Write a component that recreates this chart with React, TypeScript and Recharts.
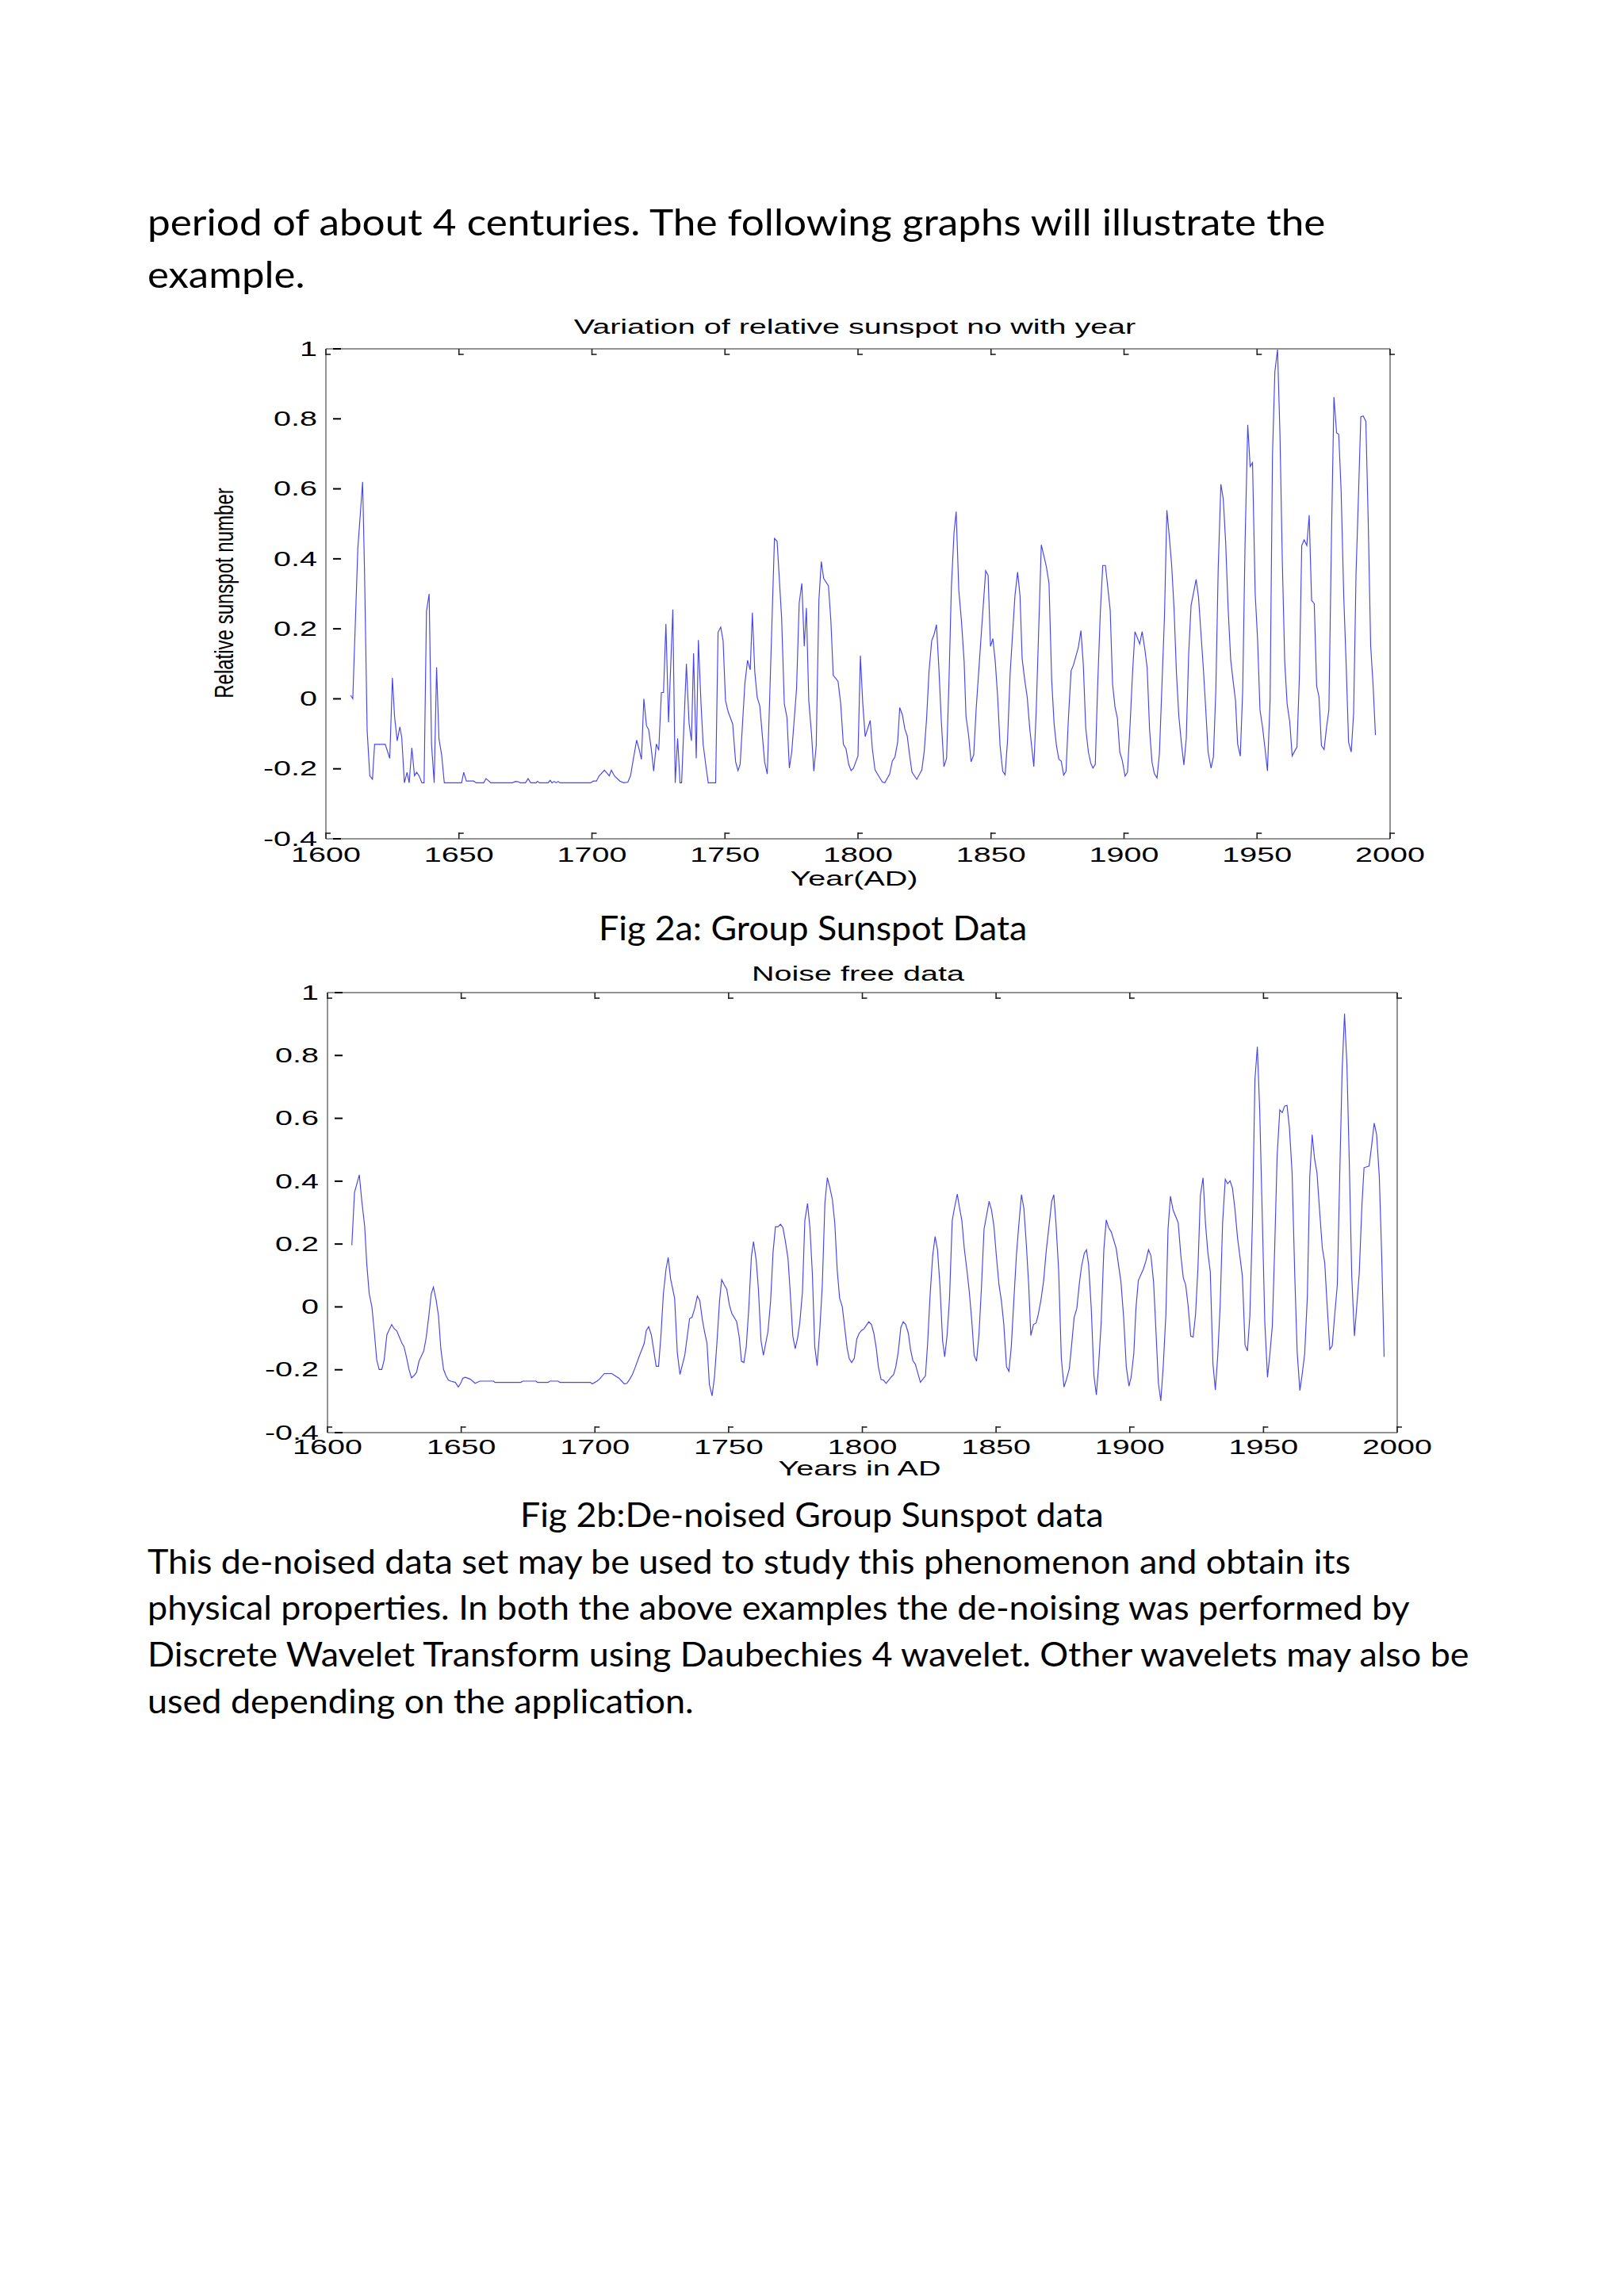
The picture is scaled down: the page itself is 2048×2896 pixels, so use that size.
import React, { useLayoutEffect, useRef, useState } from 'react';
import { LineChart, Line, XAxis, YAxis } from 'recharts';

// axis ticks shared by both plots
const xTicks = [1600, 1650, 1700, 1750, 1800, 1850, 1900, 1950, 2000];
const yTicks = [-0.4, -0.2, 0, 0.2, 0.4, 0.6, 0.8, 1];

// Fig 2a: raw relative group sunspot number
const years1 = [
  1609.3, 1610.1, 1612.0, 1613.8, 1614.5, 1615.5, 1616.5, 1617.5, 1618.3, 1622.3,
  1624.0, 1625.0, 1625.8, 1626.8, 1627.8, 1628.5, 1629.5, 1630.5, 1631.3, 1632.3,
  1633.3, 1634.1, 1635.0, 1636.1, 1636.9, 1637.8, 1638.8, 1639.7, 1640.7, 1641.6,
  1642.5, 1643.5, 1644.5, 1651.0, 1651.8, 1652.8, 1655.5, 1656.5, 1659.3, 1660.2,
  1662.0, 1670.0, 1671.3, 1672.3, 1673.1, 1675.0, 1676.0, 1677.0, 1679.0, 1679.5,
  1680.3, 1683.5, 1684.3, 1685.0, 1685.8, 1686.5, 1687.3, 1688.0, 1699.5, 1700.5,
  1701.7, 1702.7, 1704.7, 1706.5, 1707.3, 1708.5, 1710.5, 1712.0, 1713.5, 1714.5,
  1715.5, 1716.8, 1717.7, 1718.6, 1719.5, 1720.5, 1721.3, 1722.3, 1723.2, 1724.2,
  1725.1, 1726.1, 1726.9, 1727.8, 1728.8, 1730.4, 1731.3, 1732.2, 1733.1, 1733.7,
  1735.5, 1736.5, 1737.4, 1738.2, 1739.2, 1740.0, 1741.0, 1741.8, 1742.8, 1743.7,
  1746.5, 1747.4, 1748.4, 1749.3, 1750.2, 1751.2, 1752.9, 1754.0, 1754.9, 1755.7,
  1757.5, 1758.5, 1759.5, 1760.3, 1761.2, 1762.1, 1763.1, 1764.9, 1765.9, 1766.8,
  1768.6, 1769.6, 1771.3, 1772.3, 1773.3, 1774.2, 1775.1, 1776.9, 1777.9, 1778.9,
  1779.8, 1780.6, 1781.5, 1782.5, 1783.4, 1784.3, 1785.3, 1786.2, 1787.1, 1788.9,
  1789.8, 1790.7, 1792.5, 1793.5, 1794.5, 1795.5, 1796.5, 1797.4, 1798.3, 1800.0,
  1800.9, 1801.8, 1802.7, 1804.6, 1805.4, 1806.4, 1808.2, 1809.2, 1810.1, 1811.9,
  1812.9, 1813.9, 1814.9, 1815.7, 1816.7, 1817.6, 1818.5, 1819.4, 1820.3, 1822.1,
  1824.0, 1824.9, 1825.8, 1826.7, 1827.7, 1828.6, 1829.5, 1830.4, 1831.3, 1832.3,
  1833.3, 1834.2, 1835.1, 1836.1, 1836.9, 1837.9, 1838.9, 1839.9, 1840.6, 1841.6,
  1842.5, 1843.5, 1844.4, 1846.2, 1848.0, 1848.9, 1849.8, 1850.7, 1851.6, 1852.5,
  1853.4, 1854.4, 1855.3, 1856.2, 1857.2, 1859.0, 1860.0, 1860.9, 1861.7, 1862.6,
  1863.6, 1864.6, 1866.1, 1867.0, 1868.0, 1868.9, 1870.8, 1871.8, 1872.8, 1873.7,
  1874.6, 1875.5, 1876.4, 1877.3, 1878.2, 1879.1, 1880.1, 1881.0, 1882.8, 1883.8,
  1884.7, 1885.6, 1886.6, 1887.5, 1888.3, 1889.2, 1890.1, 1891.1, 1892.0, 1893.0,
  1893.9, 1894.8, 1895.7, 1896.6, 1897.5, 1898.4, 1899.3, 1900.4, 1901.3, 1902.3,
  1903.2, 1904.1, 1905.9, 1906.8, 1907.8, 1908.7, 1909.6, 1910.5, 1911.4, 1912.4,
  1913.3, 1914.2, 1915.2, 1916.1, 1917.0, 1917.9, 1918.8, 1919.7, 1920.6, 1921.6,
  1922.5, 1923.4, 1924.3, 1925.2, 1927.1, 1928.0, 1928.9, 1929.8, 1930.7, 1931.6,
  1932.7, 1933.6, 1934.5, 1935.4, 1936.4, 1937.3, 1938.2, 1939.1, 1940.1, 1941.0,
  1941.9, 1942.7, 1943.7, 1944.6, 1945.5, 1946.5, 1947.4, 1948.3, 1949.3, 1950.2,
  1951.1, 1952.1, 1953.0, 1953.9, 1954.9, 1955.8, 1956.7, 1957.7, 1958.6, 1959.5,
  1960.4, 1961.3, 1962.3, 1963.2, 1964.1, 1965.0, 1965.9, 1966.8, 1967.7, 1968.7,
  1969.6, 1970.5, 1971.5, 1972.4, 1973.3, 1974.2, 1975.2, 1976.1, 1977.0, 1978.0,
  1978.9, 1979.9, 1980.7, 1981.6, 1982.6, 1983.5, 1984.4, 1985.4, 1986.3, 1987.2,
  1988.1, 1989.0, 1989.9, 1990.9, 1991.8, 1992.7, 1993.6, 1994.5,
];
const sunspot1 = [
  0.01, 0.0, 0.43, 0.62, 0.37, -0.09, -0.22, -0.23, -0.13, -0.13,
  -0.17, 0.06, -0.05, -0.12, -0.08, -0.11, -0.24, -0.21, -0.24, -0.14,
  -0.22, -0.21, -0.22, -0.24, -0.24, 0.25, 0.3, -0.13, -0.24, 0.09,
  -0.115, -0.16, -0.24, -0.24, -0.21, -0.235, -0.235, -0.24, -0.24, -0.228,
  -0.24, -0.24, -0.236, -0.237, -0.24, -0.24, -0.228, -0.24, -0.24, -0.236,
  -0.24, -0.24, -0.233, -0.24, -0.236, -0.24, -0.236, -0.24, -0.24, -0.235,
  -0.235, -0.22, -0.204, -0.22, -0.204, -0.221, -0.235, -0.24, -0.238, -0.22,
  -0.175, -0.118, -0.143, -0.173, 0.0, -0.077, -0.088, -0.143, -0.207, -0.129,
  -0.147, 0.018, 0.018, 0.214, -0.067, 0.255, -0.24, -0.113, -0.24, -0.24,
  0.1, -0.07, -0.12, 0.13, -0.17, 0.168, -0.014, -0.13, -0.19, -0.24,
  -0.24, 0.19, 0.205, 0.166, -0.005, -0.037, -0.072, -0.18, -0.205, -0.187,
  0.046, 0.11, 0.083, 0.246, 0.078, 0.005, -0.021, -0.18, -0.215, 0.0,
  0.458, 0.45, 0.23, -0.014, -0.053, -0.198, -0.152, 0.028, 0.274, 0.33,
  0.15, 0.26, -0.005, -0.097, -0.207, -0.134, 0.281, 0.392, 0.344, 0.323,
  0.224, 0.067, 0.05, -0.014, -0.13, -0.143, -0.187, -0.205, -0.198, -0.163,
  0.123, -0.014, -0.108, -0.062, -0.143, -0.203, -0.226, -0.238, -0.24, -0.215,
  -0.178, -0.166, -0.124, -0.025, -0.046, -0.086, -0.106, -0.161, -0.21, -0.23,
  -0.203, -0.15, -0.055, 0.078, 0.166, 0.184, 0.212, 0.088, -0.06, -0.194,
  -0.17, 0.05, 0.318, 0.475, 0.535, 0.309, 0.221, 0.106, -0.05, -0.106,
  -0.18, -0.16, -0.032, 0.17, 0.366, 0.353, 0.15, 0.172, 0.106, 0.005,
  -0.134, -0.207, -0.217, -0.12, 0.074, 0.295, 0.362, 0.295, 0.115, 0.058,
  0.005, -0.088, -0.194, -0.032, 0.217, 0.44, 0.378, 0.33, 0.055, -0.07,
  -0.134, -0.173, -0.178, -0.218, -0.207, -0.055, 0.08, 0.097, 0.146, 0.195,
  0.097, -0.083, -0.152, -0.184, -0.198, -0.187, 0.041, 0.249, 0.381, 0.381,
  0.318, 0.253, 0.041, -0.023, -0.055, -0.152, -0.175, -0.221, -0.21, -0.07,
  0.074, 0.192, 0.157, 0.192, 0.143, 0.088, -0.088, -0.18, -0.214, -0.226,
  -0.157, 0.028, 0.235, 0.539, 0.465, 0.382, 0.258, 0.074, -0.05, -0.129,
  -0.189, -0.113, 0.129, 0.267, 0.341, 0.29, 0.189, 0.088, -0.028, -0.152,
  -0.198, -0.166, 0.023, 0.373, 0.613, 0.571, 0.447, 0.263, 0.111, 0.051,
  -0.005, -0.129, -0.164, 0.023, 0.447, 0.783, 0.664, 0.675, 0.3, 0.17,
  -0.032, -0.083, -0.143, -0.206, -0.005, 0.696, 0.935, 0.998, 0.76, 0.392,
  0.106, -0.014, -0.067, -0.163, -0.15, -0.138, 0.06, 0.438, 0.454, 0.438,
  0.525, 0.281, 0.272, 0.037, 0.005, -0.134, -0.145, -0.083, -0.032, 0.475,
  0.862, 0.76, 0.756, 0.594, 0.29, 0.097, -0.124, -0.152, -0.041, 0.355,
  0.576, 0.806, 0.808, 0.793, 0.502, 0.152, 0.041, -0.104,
];

// Fig 2b: de-noised series
const years2 = [
  1609.1, 1610.1, 1611.9, 1612.9, 1613.9, 1614.7, 1615.6, 1616.6, 1617.5, 1618.4,
  1619.3, 1620.3, 1621.2, 1622.2, 1624.0, 1625.0, 1625.9, 1627.8, 1628.6, 1629.5,
  1630.5, 1631.4, 1632.3, 1633.3, 1634.2, 1636.0, 1636.9, 1637.9, 1638.8, 1639.6,
  1640.6, 1641.5, 1642.4, 1643.4, 1644.3, 1645.2, 1646.1, 1647.8, 1648.9, 1649.8,
  1650.6, 1651.5, 1653.4, 1655.2, 1657.0, 1662.1, 1662.6, 1672.3, 1673.0, 1678.0,
  1678.5, 1682.5, 1683.2, 1686.2, 1686.9, 1698.3, 1699.0, 1700.8, 1701.8, 1703.5,
  1706.3, 1707.2, 1709.0, 1710.0, 1711.0, 1712.0, 1713.0, 1714.0, 1714.9, 1716.7,
  1718.4, 1719.2, 1720.1, 1721.1, 1721.9, 1722.9, 1723.8, 1724.7, 1725.6, 1726.6,
  1727.4, 1728.3, 1729.8, 1730.8, 1731.8, 1733.6, 1734.6, 1735.4, 1736.3, 1737.3,
  1738.3, 1739.2, 1740.2, 1741.1, 1741.9, 1742.8, 1743.8, 1744.7, 1745.6, 1746.6,
  1747.4, 1748.4, 1749.3, 1750.3, 1751.2, 1753.0, 1754.0, 1754.8, 1755.7, 1756.6,
  1757.5, 1758.5, 1759.3, 1760.3, 1761.1, 1762.1, 1763.0, 1764.7, 1765.7, 1766.6,
  1767.5, 1768.4, 1769.4, 1770.3, 1771.2, 1772.2, 1773.1, 1774.0, 1774.9, 1775.8,
  1776.6, 1777.6, 1778.5, 1779.5, 1780.4, 1781.3, 1782.2, 1783.1, 1784.1, 1785.0,
  1786.0, 1786.9, 1787.9, 1788.8, 1789.7, 1790.6, 1791.5, 1792.5, 1793.4, 1794.3,
  1795.1, 1796.0, 1797.0, 1797.9, 1798.8, 1799.7, 1800.6, 1802.4, 1803.4, 1804.3,
  1805.2, 1806.0, 1807.0, 1807.9, 1808.9, 1810.7, 1811.7, 1812.5, 1813.4, 1814.4,
  1815.3, 1816.2, 1817.2, 1818.0, 1818.9, 1819.8, 1821.7, 1823.6, 1824.4, 1825.3,
  1826.3, 1827.2, 1828.1, 1829.0, 1830.0, 1830.8, 1831.7, 1832.6, 1833.6, 1834.5,
  1835.5, 1836.3, 1837.2, 1838.1, 1839.1, 1840.0, 1840.9, 1841.8, 1842.7, 1843.6,
  1844.5, 1845.5, 1846.4, 1847.4, 1848.3, 1849.2, 1850.1, 1851.1, 1852.0, 1852.9,
  1853.9, 1854.8, 1855.7, 1856.6, 1857.6, 1858.5, 1859.5, 1860.4, 1861.3, 1862.2,
  1863.0, 1864.0, 1865.0, 1865.8, 1866.8, 1867.8, 1868.8, 1869.8, 1870.8, 1871.6,
  1872.4, 1873.4, 1874.4, 1875.4, 1876.4, 1877.4, 1878.4, 1879.2, 1880.2, 1881.2,
  1882.0, 1883.0, 1883.8, 1884.6, 1885.6, 1886.6, 1887.5, 1888.3, 1889.3, 1890.3,
  1891.2, 1892.1, 1893.1, 1894.9, 1896.7, 1897.7, 1898.7, 1899.7, 1900.5, 1901.5,
  1902.3, 1903.2, 1905.1, 1906.0, 1907.0, 1907.9, 1908.9, 1909.7, 1910.7, 1911.6,
  1912.5, 1913.5, 1914.3, 1915.2, 1916.2, 1918.1, 1919.1, 1920.0, 1920.9, 1921.8,
  1922.8, 1923.7, 1924.6, 1925.5, 1926.4, 1927.4, 1928.3, 1929.2, 1930.1, 1931.1,
  1932.0, 1932.9, 1933.8, 1934.7, 1935.7, 1936.6, 1937.5, 1938.4, 1939.3, 1940.3,
  1941.2, 1942.1, 1943.1, 1944.0, 1944.9, 1945.9, 1946.8, 1947.7, 1948.6, 1949.5,
  1950.5, 1951.5, 1952.4, 1953.3, 1954.2, 1955.1, 1956.1, 1957.0, 1957.9, 1958.8,
  1959.7, 1960.7, 1961.7, 1962.6, 1963.6, 1964.4, 1965.4, 1966.4, 1967.3, 1968.2,
  1969.1, 1970.0, 1971.0, 1972.0, 1972.9, 1973.8, 1974.8, 1975.7, 1976.6, 1977.6,
  1978.5, 1979.4, 1980.3, 1981.2, 1982.1, 1983.0, 1984.0, 1984.9, 1985.8, 1986.8,
  1987.6, 1989.5, 1990.5, 1991.4, 1992.3, 1993.3, 1994.2, 1995.1,
];
const sunspot2 = [
  0.196, 0.364, 0.42, 0.331, 0.257, 0.135, 0.042, 0.0, -0.079, -0.168,
  -0.199, -0.199, -0.168, -0.089, -0.056, -0.07, -0.076, -0.115, -0.126, -0.159,
  -0.2, -0.226, -0.219, -0.208, -0.173, -0.14, -0.098, -0.028, 0.042, 0.063,
  0.023, -0.028, -0.135, -0.199, -0.219, -0.233, -0.236, -0.24, -0.255, -0.243,
  -0.227, -0.224, -0.23, -0.243, -0.236, -0.236, -0.24, -0.24, -0.236, -0.236,
  -0.24, -0.24, -0.236, -0.236, -0.24, -0.24, -0.245, -0.236, -0.229, -0.212,
  -0.212, -0.217, -0.227, -0.236, -0.245, -0.243, -0.23, -0.215, -0.196, -0.154,
  -0.117, -0.075, -0.063, -0.089, -0.133, -0.189, -0.189, -0.089, 0.042, 0.121,
  0.157, 0.089, 0.028, -0.145, -0.215, -0.154, -0.089, -0.037, -0.033, -0.005,
  0.035, 0.021, -0.042, -0.084, -0.115, -0.247, -0.283, -0.224, -0.117, 0.019,
  0.087, 0.07, 0.056, 0.005, -0.021, -0.047, -0.098, -0.173, -0.177, -0.126,
  -0.009, 0.159, 0.208, 0.149, 0.061, -0.107, -0.154, -0.079, 0.019, 0.173,
  0.255, 0.255, 0.263, 0.252, 0.21, 0.154, 0.037, -0.093, -0.133, -0.098,
  -0.051, 0.047, 0.275, 0.329, 0.252, 0.107, -0.126, -0.187, -0.07, 0.065,
  0.331, 0.411, 0.378, 0.341, 0.266, 0.117, 0.028, 0.0, -0.065, -0.131,
  -0.165, -0.177, -0.163, -0.103, -0.084, -0.075, -0.07, -0.047, -0.056, -0.084,
  -0.131, -0.191, -0.231, -0.233, -0.243, -0.224, -0.215, -0.191, -0.145, -0.065,
  -0.047, -0.056, -0.084, -0.135, -0.171, -0.182, -0.24, -0.219, -0.117, 0.033,
  0.163, 0.224, 0.182, 0.07, -0.107, -0.159, -0.089, 0.028, 0.275, 0.317,
  0.359, 0.317, 0.275, 0.187, 0.117, 0.047, -0.042, -0.154, -0.173, -0.089,
  0.056, 0.247, 0.289, 0.336, 0.308, 0.257, 0.163, 0.07, 0.019, -0.056,
  -0.191, -0.205, -0.126, 0.014, 0.163, 0.261, 0.357, 0.313, 0.201, 0.07,
  -0.091, -0.056, -0.051, -0.023, 0.023, 0.084, 0.182, 0.257, 0.336, 0.357,
  0.266, 0.117, -0.163, -0.255, -0.229, -0.196, -0.107, -0.033, -0.005, 0.079,
  0.131, 0.171, 0.182, 0.135, -0.005, -0.219, -0.28, -0.191, -0.051, 0.182,
  0.277, 0.252, 0.238, 0.187, 0.079, -0.033, -0.191, -0.252, -0.224, -0.149,
  -0.005, 0.084, 0.121, 0.145, 0.182, 0.163, 0.079, -0.061, -0.243, -0.299,
  -0.191, -0.023, 0.247, 0.352, 0.308, 0.268, 0.163, 0.093, 0.07, 0.005,
  -0.093, -0.096, -0.023, 0.126, 0.355, 0.411, 0.266, 0.173, 0.112, -0.182,
  -0.264, -0.154, 0.005, 0.266, 0.406, 0.392, 0.401, 0.378, 0.313, 0.219,
  0.159, 0.098, -0.121, -0.14, -0.028, 0.285, 0.723, 0.828, 0.621, 0.303,
  -0.051, -0.224, -0.149, -0.061, 0.191, 0.481, 0.627, 0.618, 0.639, 0.641,
  0.569, 0.425, 0.098, -0.145, -0.266, -0.219, -0.149, 0.033, 0.415, 0.548,
  0.471, 0.427, 0.303, 0.187, 0.14, 0.005, -0.135, -0.124, -0.028, 0.07,
  0.415, 0.751, 0.933, 0.77, 0.453, 0.098, -0.093, 0.005, 0.107, 0.322,
  0.443, 0.448, 0.518, 0.585, 0.548, 0.415, 0.163, -0.159,
];

const data1 = years1.map((year, i) => ({ year, value: sunspot1[i] }));
const data2 = years2.map((year, i) => ({ year, value: sunspot2[i] }));

const CHART_FONT = '"Liberation Sans", Arial, sans-serif';
const TEXT_FONT = 'Lato, "Open Sans", sans-serif';
const SX = 1.58; // the figures were pasted stretched sideways
const LINE_BLUE = '#4545ee';
const BOX_GREY = '#6e6e6e';

const fmtY = (v: number) => (v === 0 ? '0' : v === 1 ? '1' : v.toFixed(1));

const LeftTick = (p: any) => {
  const { x, y, payload } = p;
  const ax = x + 11;
  return (
    <g>
      <line x1={ax + 9} x2={ax + 19} y1={y} y2={y} stroke="#000" strokeWidth={2} />
      <text
        transform={`translate(${x},${y}) scale(${SX},1)`}
        textAnchor="end"
        dominantBaseline="central"
        fontSize={25}
        fontFamily={CHART_FONT}
        fill="#000"
      >
        {fmtY(payload.value)}
      </text>
    </g>
  );
};

const RightTick = (p: any) => {
  const { x, y } = p;
  return <line x1={x - 16} x2={x - 9} y1={y} y2={y} stroke="#000" strokeWidth={2} />;
};

const TopTick = (p: any) => {
  const { x, y } = p;
  return (
    <g stroke="#222" strokeWidth={1.6}>
      <line x1={x} x2={x} y1={y} y2={y + 8} />
      <line x1={x} x2={x + 6} y1={y + 7} y2={y + 7} />
    </g>
  );
};

const makeBottomTick = (labelGap: number) => (p: any) => {
  const { x, y, payload } = p;
  return (
    <g>
      <g stroke="#222" strokeWidth={1.6}>
        <line x1={x} x2={x} y1={y} y2={y - 8} />
        <line x1={x} x2={x + 6} y1={y - 7} y2={y - 7} />
      </g>
      <text
        transform={`translate(${x},${y + labelGap}) scale(${SX},1)`}
        textAnchor="middle"
        dominantBaseline="central"
        fontSize={25}
        fontFamily={CHART_FONT}
        fill="#000"
      >
        {payload.value}
      </text>
    </g>
  );
};

const ChartText = ({ text, cx, cy }: { text: string; cx: number; cy: number }) => (
  <div
    style={{
      position: 'absolute',
      left: cx,
      top: cy,
      transform: `translate(-50%,-50%) scaleX(${SX})`,
      fontFamily: CHART_FONT,
      fontSize: 25,
      lineHeight: 1,
      whiteSpace: 'nowrap',
      color: '#000',
    }}
  >
    {text}
  </div>
);

// one line of document text, squeezed to the width it has on the page
const FitText = ({ text, x, cy, w, size }: { text: string; x: number; cy: number; w: number; size: number }) => {
  const ref = useRef<HTMLDivElement>(null);
  const [k, setK] = useState(1);
  useLayoutEffect(() => {
    if (ref.current) setK(w / ref.current.offsetWidth);
  }, [w, text]);
  return (
    <div
      ref={ref}
      style={{
        position: 'absolute',
        left: x,
        top: cy - size * 0.56,
        fontFamily: TEXT_FONT,
        fontSize: size,
        lineHeight: 1,
        whiteSpace: 'nowrap',
        transform: `scaleX(${k})`,
        transformOrigin: 'left top',
        color: '#000',
      }}
    >
      {text}
    </div>
  );
};

const SunspotPlot = ({ data, labelGap, margin, height }: any) => (
  <LineChart width={2048} height={height} data={data} margin={margin}>
    <XAxis
      dataKey="year"
      type="number"
      domain={[1600, 2000]}
      ticks={xTicks}
      interval={0}
      height={60}
      tickSize={0}
      tickMargin={0}
      tickLine={false}
      axisLine={{ stroke: BOX_GREY, strokeWidth: 1.5 }}
      tick={makeBottomTick(labelGap)}
    />
    <XAxis
      xAxisId="top"
      orientation="top"
      dataKey="year"
      type="number"
      domain={[1600, 2000]}
      ticks={xTicks}
      interval={0}
      height={10}
      tickSize={0}
      tickMargin={0}
      tickLine={false}
      axisLine={{ stroke: BOX_GREY, strokeWidth: 1.5 }}
      tick={<TopTick />}
    />
    <YAxis
      type="number"
      domain={[-0.4, 1]}
      ticks={yTicks}
      interval={0}
      width={80}
      tickSize={0}
      tickMargin={11}
      tickLine={false}
      axisLine={{ stroke: BOX_GREY, strokeWidth: 1.5 }}
      tick={<LeftTick />}
    />
    <YAxis
      yAxisId="right"
      orientation="right"
      type="number"
      domain={[-0.4, 1]}
      ticks={yTicks}
      interval={0}
      width={10}
      tickSize={0}
      tickMargin={0}
      tickLine={false}
      axisLine={{ stroke: BOX_GREY, strokeWidth: 1.5 }}
      tick={<RightTick />}
    />
    <Line
      type="linear"
      dataKey="value"
      stroke={LINE_BLUE}
      strokeWidth={1.15}
      dot={false}
      isAnimationActive={false}
    />
  </LineChart>
);

const App = () => (
  <div
    style={{
      position: 'absolute',
      left: 0,
      top: 0,
      width: 2048,
      height: 2896,
      background: '#fff',
      overflow: 'hidden',
    }}
  >
    <FitText text="period of about 4 centuries. The following graphs will illustrate the" x={186} cy={283} w={1485} size={46} />
    <FitText text="example." x={186} cy={349} w={198} size={46} />

    <ChartText text="Variation of relative sunspot no with year" cx={1078} cy={412} />
    <div style={{ position: 'absolute', left: 0, top: 360 }}>
      <SunspotPlot data={data1} labelGap={20} height={800} margin={{ top: 70, right: 285, bottom: 42, left: 331 }} />
    </div>
    <ChartText text="Year(AD)" cx={1077} cy={1108} />
    <div
      style={{
        position: 'absolute',
        left: 283,
        top: 748,
        transform: 'translate(-50%,-50%) rotate(-90deg) scaleY(1.4)',
        fontFamily: CHART_FONT,
        fontSize: 24,
        lineHeight: 1,
        whiteSpace: 'nowrap',
        color: '#000',
      }}
    >
      Relative sunspot number
    </div>
    <FitText text="Fig 2a: Group Sunspot Data" x={755} cy={1173} w={540} size={42} />

    <ChartText text="Noise free data" cx={1082} cy={1228} />
    <div style={{ position: 'absolute', left: 0, top: 1170 }}>
      <SunspotPlot data={data2} labelGap={18} height={720} margin={{ top: 72, right: 276, bottom: 23, left: 333 }} />
    </div>
    <ChartText text="Years in AD" cx={1084} cy={1852} />
    <FitText text="Fig 2b:De-noised Group Sunspot data" x={656} cy={1913} w={736} size={42} />

    <FitText text="This de-noised data set may be used to study this phenomenon and obtain its" x={186} cy={1972} w={1517} size={42} />
    <FitText text="physical properties. In both the above examples the de-noising was performed by" x={186} cy={2030} w={1592} size={42} />
    <FitText text="Discrete Wavelet Transform using Daubechies 4 wavelet. Other wavelets may also be" x={186} cy={2089} w={1666} size={42} />
    <FitText text="used depending on the application." x={186} cy={2148} w={689} size={42} />
  </div>
);

export default App;
